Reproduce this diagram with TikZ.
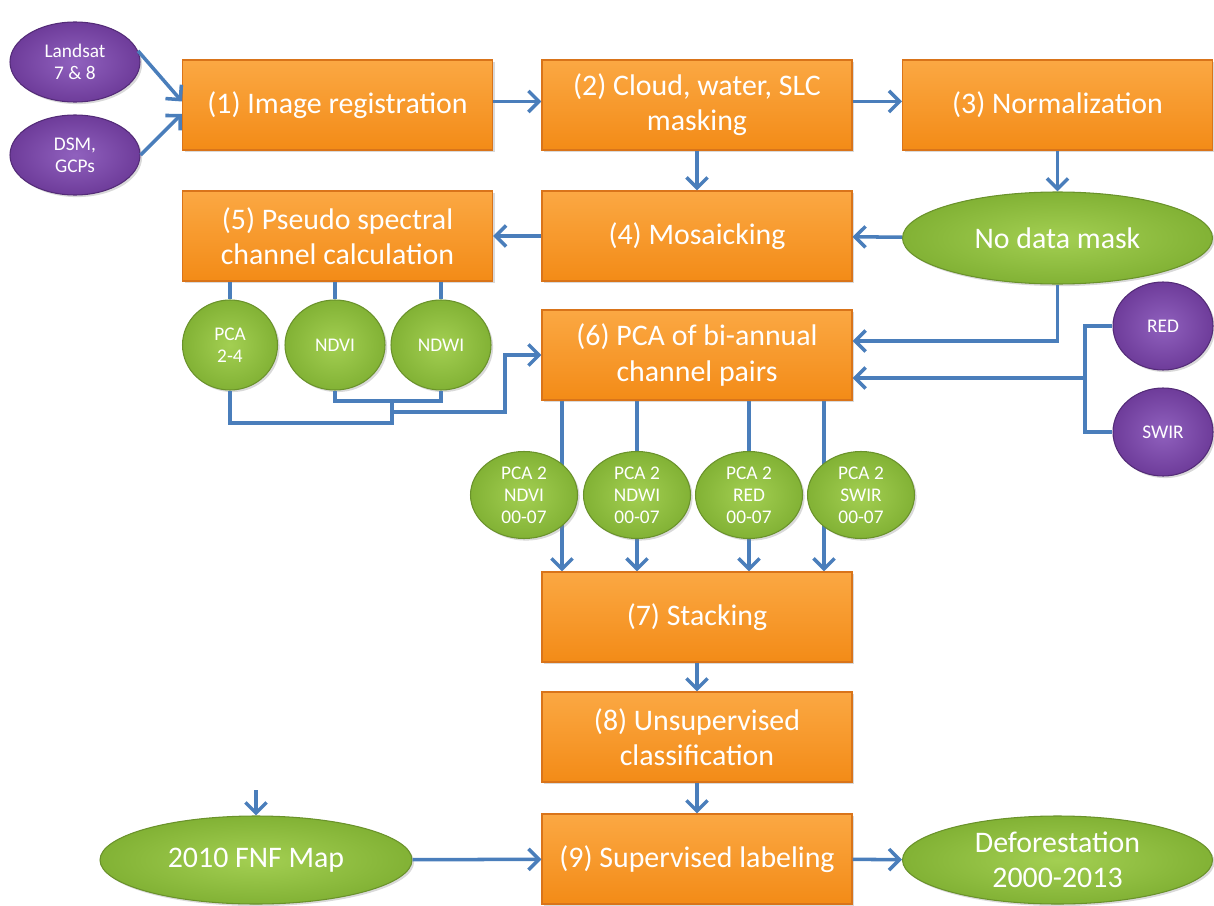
\documentclass[tikz,border=0pt]{standalone}
\usepackage{fontspec}
\setmainfont{Carlito}
\usetikzlibrary{arrows.meta, positioning, shapes.geometric, shadows, backgrounds}
\definecolor{corange}{HTML}{F38B17}
\definecolor{corangelt}{HTML}{FBA843}
\definecolor{corangedk}{HTML}{D9741A}
\definecolor{cgreen}{HTML}{82B235}
\definecolor{cgreenlt}{HTML}{A3CF52}
\definecolor{cgreendk}{HTML}{6A922B}
\definecolor{cpurple}{HTML}{6E3C9A}
\definecolor{cpurplelt}{HTML}{9061BE}
\definecolor{cpurpledk}{HTML}{532B77}
\definecolor{cblue}{HTML}{4A7EBB}
\tikzset{
  every picture/.style={line width=2pt},
  proc/.style={draw=corangedk, line width=0.6pt, top color=corangelt, bottom color=corange,
    minimum width=6.2cm, minimum height=1.8cm, align=center, text=white,
    font=\fontsize{17}{20}\selectfont,
    drop shadow={opacity=0.3, shadow xshift=1.2pt, shadow yshift=-1.2pt}},
  bubble/.style={ellipse, draw=cgreendk, line width=0.6pt, inner color=cgreenlt, outer color=cgreen,
    inner sep=-2pt, align=center, text=white, font=\fontsize{11}{12.5}\selectfont,
    drop shadow={opacity=0.3, shadow xshift=1.2pt, shadow yshift=-1.2pt}},
  bigbubble/.style={bubble, inner sep=0pt, font=\fontsize{17}{20}\selectfont},
  src/.style={bubble, draw=cpurpledk, inner color=cpurplelt, outer color=cpurple},
  arrow/.style={-{Straight Barb[length=6pt, width=12pt]}, draw=cblue, line width=2pt},
  link/.style={draw=cblue, line width=2pt},
}

\begin{document}
\begin{tikzpicture}
  \useasboundingbox (0,0) rectangle (24.28,-18.1);
  % main chain
  \node[proc] (reg) at (6.75,-2.1) {(1) Image registration};
  \node[proc] (mask) at (13.94,-2.1) {(2) Cloud, water, SLC\\masking};
  \node[proc] (norm) at (21.15,-2.1) {(3) Normalization};
  \node[proc] (mosaic) at (13.94,-4.72) {(4) Mosaicking};
  \node[proc] (pseudo) at (6.75,-4.72) {(5) Pseudo spectral\\channel calculation};
  \node[proc] (pcab) at (13.94,-7.1) {(6) PCA of bi-annual\\channel pairs};
  \node[proc] (stack) at (13.94,-12.34) {(7) Stacking};
  \node[proc] (unsup) at (13.94,-14.74) {(8) Unsupervised\\classification};
  \node[proc] (sup) at (13.94,-17.18) {(9) Supervised labeling};
  % inputs
  \node[src, minimum width=2.6cm, minimum height=1.6cm] (landsat) at (1.5,-1.24) {Landsat\\7 \& 8};
  \node[src, minimum width=2.6cm, minimum height=1.6cm] (dsm) at (1.5,-3.1) {DSM,\\GCPs};
  \node[bigbubble, minimum width=6.2cm, minimum height=1.84cm] (nodata) at (21.15,-4.76) {No data mask};
  \node[src, minimum width=2.0cm, minimum height=1.76cm] (red) at (23.26,-6.52) {RED};
  \node[src, minimum width=2.0cm, minimum height=1.76cm] (swir) at (23.26,-8.64) {SWIR};
  \node[bubble, minimum width=1.9cm, minimum height=1.8cm] (pca24) at (4.6,-6.9) {PCA\\2-4};
  \node[bubble, minimum width=2.0cm, minimum height=1.8cm] (ndvi) at (6.7,-6.9) {NDVI};
  \node[bubble, minimum width=2.0cm, minimum height=1.8cm] (ndwi) at (8.82,-6.9) {NDWI};
  \node[bubble, minimum width=2.14cm, minimum height=1.74cm] (pndvi) at (10.48,-9.9) {PCA 2\\NDVI\\00-07};
  \node[bubble, minimum width=2.14cm, minimum height=1.74cm] (pndwi) at (12.74,-9.9) {PCA 2\\NDWI\\00-07};
  \node[bubble, minimum width=2.14cm, minimum height=1.74cm] (pred) at (14.98,-9.9) {PCA 2\\RED\\00-07};
  \node[bubble, minimum width=2.14cm, minimum height=1.74cm] (pswir) at (17.22,-9.9) {PCA 2\\SWIR\\00-07};
  \node[bigbubble, minimum width=6.24cm, minimum height=1.76cm] (fnf) at (5.12,-17.2) {2010 FNF Map};
  \node[bigbubble, minimum width=6.2cm, minimum height=1.76cm] (defor) at (21.15,-17.2) {Deforestation\\2000-2013};
  % junctions
  \coordinate (j1) at (7.84,-8.02);
  \coordinate (j2) at (7.84,-8.46);
  \coordinate (j3) at (7.84,-8.24);
  \coordinate (k) at (10.1,-8.24);
  \coordinate (rs) at (21.7,-7.56);
  \coordinate (fnfin) at (5.12,-15.8);
  % connectors
  \draw[arrow] (landsat.10) -- ([yshift=2pt]reg.west);
  \draw[arrow] (dsm.east) -- ([yshift=-5pt]reg.west);
  \draw[arrow] ([yshift=2pt]reg.east) -- ([yshift=2pt]mask.west);
  \draw[arrow] ([yshift=2pt]mask.east) -- ([yshift=2pt]norm.west);
  \draw[arrow] (mask) -- (mosaic);
  \draw[arrow] (norm) -- (nodata);
  \draw[arrow] (nodata) -- (mosaic);
  \draw[arrow] (mosaic) -- (pseudo);
  \foreach \n in {pca24, ndvi, ndwi}
    \draw[link] (\n.north) -- (\n |- pseudo.south);
  \draw[link] (pca24.south) |- (j2) -- (j1);
  \draw[link] (ndvi.south) |- (j1) -| (ndwi.south);
  \draw[arrow] (j3) -- (k) |- (pcab.west);
  \draw[arrow] (nodata.south) |- ([yshift=0.28cm]pcab.east);
  \draw[link] (red.west) -| (rs) |- (swir.west);
  \draw[arrow] (rs) -- (pcab.east |- rs);
  \begin{scope}[on background layer]
    \foreach \dx in {-2.7,-1.2,1.04,2.54}
      \draw[arrow] ([xshift=\dx cm]pcab.south) -- ([xshift=\dx cm]stack.north);
  \end{scope}
  \draw[arrow] (stack) -- (unsup);
  \draw[arrow] (unsup) -- (sup);
  \draw[arrow] (fnfin) -- (fnf.north);
  \draw[arrow] (fnf) -- (sup);
  \draw[arrow] (sup) -- (defor);
\end{tikzpicture}
\end{document}
